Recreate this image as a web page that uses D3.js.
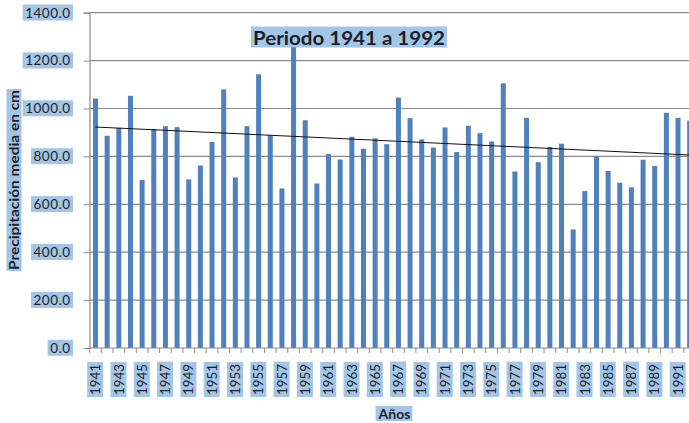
<!DOCTYPE html>
<html>
<head>
<meta charset="utf-8">
<script src="https://cdn.jsdelivr.net/npm/d3@7"></script>
<style>
  body { margin: 0; background: #fff; }
  svg { display: block; }
  .lbl { font-family: Lato, "Open Sans", sans-serif; fill: #1e1e28; }
</style>
</head>
<body>
<div id="chart"></div>
<script>
// Precipitation chart, 1941 - 1992
const years = d3.range(1941, 1993);
const precip = [
  1042, 886, 919, 1053, 701, 914, 926, 922, 704, 762,
  861, 1080, 712, 926, 1143, 888, 666, 1256, 951, 687,
  810, 787, 882, 832, 875, 851, 1046, 960, 871, 837,
  921, 818, 928, 897, 862, 1105, 737, 961, 776, 840,
  853, 495, 655, 801, 739, 690, 671, 786, 760, 982,
  961, 949
];
const yTicks = [0, 200, 400, 600, 800, 1000, 1200, 1400];
const xLabelYears = years.filter(y => y % 2 === 1);

const chartTitle = 'Periodo 1941 a 1992';
const yTitle = 'Precipitación media en cm';
const xTitle = 'Años';

const width = 689, height = 423;
const plotLeft = 89.5, plotTop = 12.7, plotBottom = 348;
const hl = '#a3c5e6';

const svg = d3.select('#chart').append('svg')
    .attr('width', width)
    .attr('height', height);

const x = d3.scaleBand()
    .domain(years)
    .range([89.7, 695.5])
    .paddingInner(0.57)
    .paddingOuter(0.285);

const y = d3.scaleLinear()
    .domain([0, 1400])
    .range([plotBottom, plotTop]);

const gap = x.step() - x.bandwidth();

// highlight box behind a text node (same transform)
function highlight(textSel, padX, padY) {
    textSel.each(function() {
        const b = this.getBBox();
        d3.select(this.parentNode).insert('rect', () => this)
            .attr('x', b.x - padX)
            .attr('y', b.y - padY)
            .attr('width', b.width + padX * 2)
            .attr('height', b.height + padY * 2)
            .attr('transform', d3.select(this).attr('transform'))
            .attr('fill', hl);
    });
}

// gridlines
svg.append('g').selectAll('line')
    .data(yTicks.filter(d => d > 0))
    .join('line')
    .attr('x1', plotLeft).attr('x2', width)
    .attr('y1', d => y(d)).attr('y2', d => y(d))
    .attr('stroke', '#8c8c8c')
    .attr('stroke-width', 1.2);

// title (sits under the bars)
const t = svg.append('text')
    .attr('class', 'lbl')
    .attr('x', 349).attr('y', 44.5)
    .attr('text-anchor', 'middle')
    .attr('font-size', 19)
    .attr('font-weight', 'bold')
    .attr('textLength', 192)
    .attr('lengthAdjust', 'spacingAndGlyphs')
    .text(chartTitle);
highlight(t, 2, -1);

// y axis
const yAxis = svg.append('g')
    .attr('transform', `translate(${plotLeft},0)`)
    .call(d3.axisLeft(y).tickValues(yTicks).tickFormat(d3.format('.1f')).tickSize(6).tickPadding(13));
yAxis.select('.domain').attr('stroke', '#8c8c8c').attr('stroke-width', 1.2);
yAxis.selectAll('.tick line').attr('stroke', '#8c8c8c');
yAxis.selectAll('.tick text')
    .attr('class', 'lbl')
    .attr('font-size', 13.5)
    .attr('letter-spacing', 0.5);
highlight(yAxis.selectAll('.tick text'), 2.5, 0);

// bars
svg.append('g').selectAll('rect')
    .data(precip)
    .join('rect')
    .attr('x', (d, i) => x(years[i]))
    .attr('y', d => y(d))
    .attr('width', x.bandwidth())
    .attr('height', d => y(0) - y(d))
    .attr('fill', '#4f81bd');

// x axis line and boundary ticks
svg.append('line')
    .attr('x1', plotLeft).attr('x2', width)
    .attr('y1', plotBottom).attr('y2', plotBottom)
    .attr('stroke', '#8c8c8c').attr('stroke-width', 1.2);
svg.append('g').selectAll('line')
    .data(years.concat([1993]))
    .join('line')
    .attr('x1', d => d <= 1992 ? x(d) - gap / 2 : x(1992) + x.bandwidth() + gap / 2)
    .attr('x2', d => d <= 1992 ? x(d) - gap / 2 : x(1992) + x.bandwidth() + gap / 2)
    .attr('y1', plotBottom).attr('y2', plotBottom + 5)
    .attr('stroke', '#8c8c8c');

// x labels
const xLab = svg.append('g').selectAll('g')
    .data(xLabelYears)
    .join('g')
    .attr('transform', d => `translate(${x(d) + x.bandwidth() / 2},${plotBottom + 16})`);
xLab.append('text')
    .attr('class', 'lbl')
    .attr('transform', 'rotate(-90)')
    .attr('text-anchor', 'end')
    .attr('dy', '0.36em')
    .attr('font-size', 13)
    .attr('textLength', 31)
    .attr('lengthAdjust', 'spacingAndGlyphs')
    .text(d => d);
highlight(xLab.selectAll('text'), 2, 0);

// linear trend line
const n = precip.length;
const mx = d3.mean(d3.range(n)), my = d3.mean(precip);
const slope = d3.sum(precip, (v, i) => (i - mx) * (v - my)) / d3.sum(d3.range(n), i => (i - mx) ** 2);
const icpt = my - slope * mx;
svg.append('line')
    .attr('x1', x(years[0]) + x.bandwidth() / 2)
    .attr('y1', y(icpt))
    .attr('x2', x(years[n - 1]) + x.bandwidth() / 2)
    .attr('y2', y(icpt + slope * (n - 1)))
    .attr('stroke', '#111')
    .attr('stroke-width', 1);

// y title
const yt = svg.append('text')
    .attr('class', 'lbl')
    .attr('transform', 'translate(14,180) rotate(-90)')
    .attr('text-anchor', 'middle')
    .attr('dy', '0.36em')
    .attr('font-size', 12.5)
    .attr('font-weight', 'bold')
    .attr('textLength', 180)
    .attr('lengthAdjust', 'spacingAndGlyphs')
    .text(yTitle);
highlight(yt, 1, 0);

// x title
const xt = svg.append('text')
    .attr('class', 'lbl')
    .attr('x', 394.5).attr('y', 419)
    .attr('text-anchor', 'middle')
    .attr('font-size', 14)
    .attr('font-weight', 'bold')
    .text(xTitle);
highlight(xt, 2, -1);
</script>
</body>
</html>
